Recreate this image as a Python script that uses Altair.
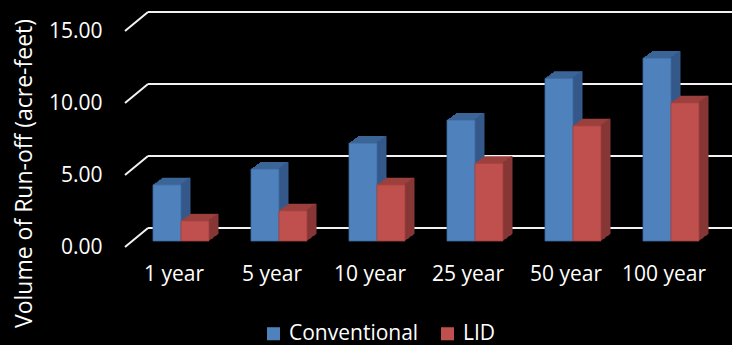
import altair as alt
import pandas as pd

categories = ["1 year", "5 year", "10 year", "25 year", "50 year", "100 year"]
series_names = ["Conventional", "LID"]
conventional = [3.9, 5.0, 6.8, 8.4, 11.3, 12.7]
lid = [1.4, 2.1, 3.9, 5.4, 8.0, 9.6]
y_ticks = [0, 5, 10, 15]

df = pd.DataFrame({
    "period": categories * 2,
    "series": [series_names[0]] * len(categories) + [series_names[1]] * len(categories),
    "value": conventional + lid,
})
grid_df = pd.DataFrame({"tick": y_ticks})

FONT = "Open Sans"
W, H = 588, 216
DX, DY = 9, 7          # bar depth
BASE = 6               # bar base above front floor
BAR_W = 28
GRID_DX, GRID_DY = 23, 19
GRID_COL = "#F2F2F2"

front_col = {"Conventional": "#4F81BD", "LID": "#C0504D"}
top_col = {"Conventional": "#3B6497", "LID": "#9C403E"}
side_col = {"Conventional": "#34598A", "LID": "#863634"}
stroke_col = {"Conventional": "#3E6AA0", "LID": "#A23F3C"}
center_off = {"Conventional": -7, "LID": 21}

y_scale = alt.Scale(domain=[0, 15], nice=False)
y_axis = alt.Axis(values=y_ticks, format=".2f", grid=False, ticks=False, domain=False,
                  labelPadding=23, title="Volume of Run-off (acre-feet)",
                  titleX=-101, titleY=142, titleAngle=-90, titleAlign="center",
                  titleBaseline="middle")
x_enc = alt.X("period:N", sort=categories,
              scale=alt.Scale(paddingInner=0, paddingOuter=0),
              axis=alt.Axis(labelAngle=0, ticks=False, domain=False, grid=False,
                            labelPadding=16, title=None))

def yv():
    return alt.Y("value:Q", scale=y_scale, axis=y_axis)

def yt():
    return alt.Y("tick:Q", scale=y_scale, axis=y_axis)

layers = []
# back wall gridlines
layers.append(alt.Chart(grid_df).mark_rule(color=GRID_COL, strokeWidth=2, yOffset=-GRID_DY).encode(
    x=alt.value(GRID_DX), x2=alt.value(W + 40), y=yt()))
# floor/side diagonals
layers.append(alt.Chart(grid_df).mark_rule(color=GRID_COL, strokeWidth=2, y2Offset=-GRID_DY).encode(
    x=alt.value(0), x2=alt.value(GRID_DX), y=yt(), y2=alt.Y2("tick:Q")))

for s in series_names:
    sub = alt.Chart(df).transform_filter(alt.datum.series == s)
    c = center_off[s]
    # depth (top color) staircase
    for i in range(1, DX + 1):
        dy = round(i * DY / DX)
        layers.append(sub.mark_bar(width=BAR_W, color=top_col[s], xOffset=c + i,
                                   yOffset=-BASE - dy, y2Offset=-BASE - dy).encode(x=x_enc, y=yv()))
    # side face strips
    for i in range(1, DX + 1):
        dy = round(i * DY / DX)
        layers.append(sub.mark_bar(width=2, color=side_col[s], xOffset=c + BAR_W / 2 + i - 0.5,
                                   yOffset=-BASE - dy, y2Offset=-BASE - dy).encode(x=x_enc, y=yv()))
    # front face
    layers.append(sub.mark_bar(width=BAR_W, yOffset=-BASE, y2Offset=-BASE, xOffset=c,
                               stroke=stroke_col[s], strokeWidth=0.8).encode(
        x=x_enc, y=yv(),
        color=alt.Color("series:N",
                        scale=alt.Scale(domain=series_names,
                                        range=[front_col[n] for n in series_names]),
                        legend=alt.Legend(orient="none", legendX=138, legendY=292,
                                          direction="horizontal", title=None,
                                          symbolType="square", symbolSize=170,
                                          symbolStrokeWidth=0, columnPadding=18,
                                          labelOffset=5, padding=0))))

chart = alt.layer(*layers).properties(
    width=W, height=H,
    background="black",
    autosize=alt.AutoSizeParams(type="none"),
    padding={"left": 125, "top": 31, "right": 19, "bottom": 98},
).configure_view(stroke=None).configure_axis(
    labelFont=FONT, labelFontSize=21, labelColor="white",
    titleFont=FONT, titleFontSize=23, titleColor="white", titleFontWeight="normal",
).configure_legend(
    labelFont=FONT, labelFontSize=21, labelColor="white",
)

chart.save("out.html", embed_options={"renderer": "svg", "actions": False})
